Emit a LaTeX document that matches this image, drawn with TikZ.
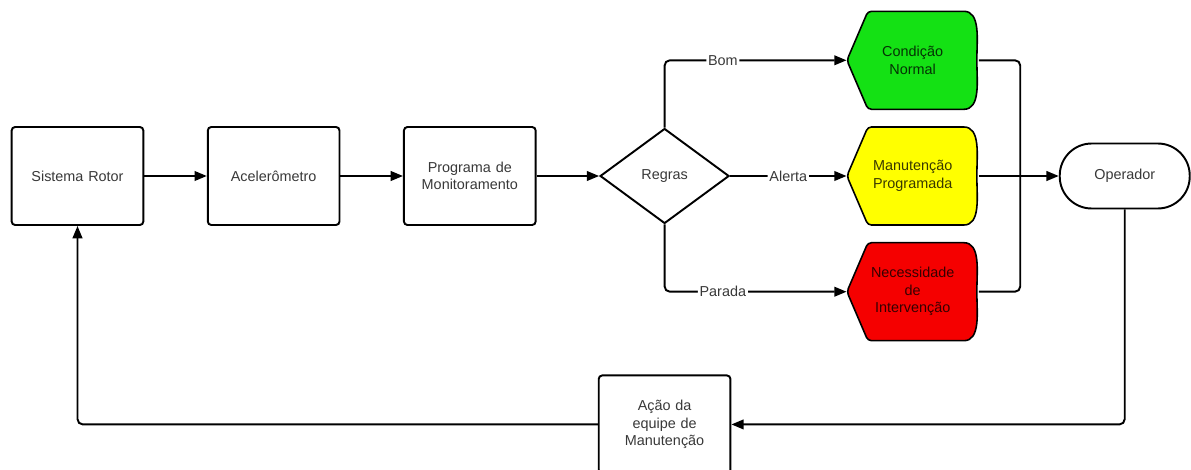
\documentclass[tikz,border=0pt]{standalone}
\usepackage{fontspec}
\setmainfont{Liberation Sans}
\usetikzlibrary{arrows.meta,positioning,shapes.geometric}
\definecolor{verde}{RGB}{20,225,20}
\definecolor{amarelo}{RGB}{255,255,0}
\definecolor{vermelho}{RGB}{245,0,0}
\def\pb{path picture bounding box}
\tikzset{
    >={Triangle[length=7pt,width=5.5pt]},
    caixa/.style={
           rectangle,
           rounded corners=2pt,
           draw=black, line width=1.1pt,
           text width=2.4cm,
           minimum width=2.62cm,
           minimum height=1.96cm,
           align=center},
    losango/.style={
           diamond,
           draw=black, line width=1.1pt,
           inner sep=0pt,
           minimum width=2.58cm,
           minimum height=1.9cm},
    sinal/.style={
           rectangle,
           minimum width=2.63cm,
           minimum height=2cm,
           align=center,
           path picture={
             \draw[line width=0.9pt, fill=#1, rounded corners=2pt]
               (\pb.west)
               -- ([xshift=0.42cm,yshift=-0.02cm]\pb.north west)
               -- ([xshift=-0.36cm,yshift=-0.02cm]\pb.north east)
               to[out=0,in=90] ([xshift=-0.03cm]\pb.east)
               to[out=-90,in=0] ([xshift=-0.36cm,yshift=0.02cm]\pb.south east)
               -- ([xshift=0.42cm,yshift=0.02cm]\pb.south west)
               -- cycle;}},
    terminal/.style={
           rectangle,
           rounded corners=0.64cm,
           draw=black, line width=1.1pt,
           minimum width=2.6cm,
           minimum height=1.3cm},
    linha/.style={
           line width=1.1pt,
           rounded corners=3pt},
    seta/.style={
           ->,
           linha},
    rotulo/.style={
           fill=white,
           inner sep=1pt}
}
\begin{document}
\begin{tikzpicture}[node distance=1.25cm, font=\fontsize{8.2}{10}\selectfont, text=black, text opacity=0.78]
  \useasboundingbox (0,0) rectangle (23.82,-9.38);
  \node[caixa] (SistemaRotor) at (1.55,-3.52) {Sistema Rotor};
  \node[caixa, right = of SistemaRotor] (Acelerometro) {Acelerômetro};
  \node[caixa, right = of Acelerometro] (Programa) {Programa de\\Monitoramento};
  \node[losango, right = 1.25cm of Programa] (Regras) {Regras};
  \node[sinal=amarelo, right = 2.33cm of Regras] (Manutencao) {Manutenção\\Programada};
  \node[sinal=verde, above = 0.3cm of Manutencao] (Normal) {Condição\\Normal};
  \node[sinal=vermelho, below = 0.3cm of Manutencao] (Intervencao) {Necessidade\\de\\Intervenção};
  \node[terminal, right = 1.6cm of Manutencao] (Operador) {Operador};
  \node[caixa, below = 3cm of Regras] (Acao) {Ação da\\equipe de\\Manutenção};
  \coordinate[right = 0.83cm of Manutencao] (Juncao);

  \draw[seta] (SistemaRotor) -- (Acelerometro);
  \draw[seta] (Acelerometro) -- (Programa);
  \draw[seta] (Programa) -- (Regras);
  \draw[seta] (Regras.north) |- node[rotulo, pos=0.66]{Bom} (Normal.west);
  \draw[seta] (Regras) -- node[rotulo]{Alerta} (Manutencao);
  \draw[seta] (Regras.south) |- node[rotulo, pos=0.66]{Parada} (Intervencao.west);
  \draw[linha] (Normal.east) -- (Normal.east -| Juncao) -- (Intervencao.east -| Juncao) -- (Intervencao.east);
  \draw[seta] (Manutencao) -- (Operador);
  \draw[seta] (Operador.south) |- (Acao.east);
  \draw[seta] (Acao.west) -| (SistemaRotor.south);
\end{tikzpicture}
\end{document}
